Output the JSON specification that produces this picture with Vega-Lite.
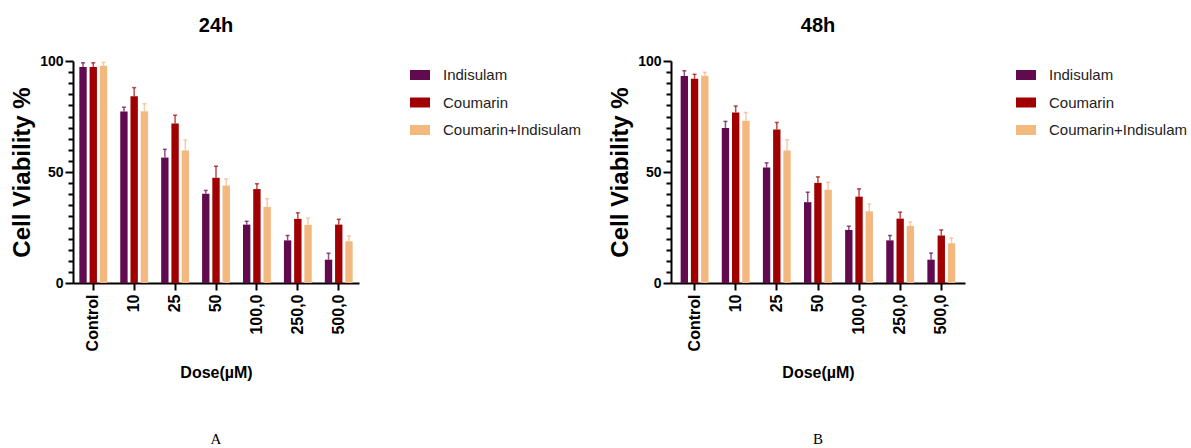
{
  "$schema": "https://vega.github.io/schema/vega-lite/v6.json",
  "padding": {"left": 10, "top": 16, "right": 2, "bottom": 0},
  "background": "white",
  "datasets": {
    "viab": [
      {"time": "24h", "dose": "Control", "treatment": "Indisulam", "value": 97.3, "upper": 99.2},
      {"time": "24h", "dose": "Control", "treatment": "Coumarin", "value": 97.3, "upper": 99.2},
      {"time": "24h", "dose": "Control", "treatment": "Coumarin+Indisulam", "value": 97.9, "upper": 99.4},
      {"time": "24h", "dose": "10", "treatment": "Indisulam", "value": 77.3, "upper": 79.2},
      {"time": "24h", "dose": "10", "treatment": "Coumarin", "value": 84.1, "upper": 88.0},
      {"time": "24h", "dose": "10", "treatment": "Coumarin+Indisulam", "value": 77.4, "upper": 80.8},
      {"time": "24h", "dose": "25", "treatment": "Indisulam", "value": 56.5, "upper": 60.2},
      {"time": "24h", "dose": "25", "treatment": "Coumarin", "value": 71.9, "upper": 75.6},
      {"time": "24h", "dose": "25", "treatment": "Coumarin+Indisulam", "value": 59.7, "upper": 64.4},
      {"time": "24h", "dose": "50", "treatment": "Indisulam", "value": 40.2, "upper": 41.7},
      {"time": "24h", "dose": "50", "treatment": "Coumarin", "value": 47.4, "upper": 52.6},
      {"time": "24h", "dose": "50", "treatment": "Coumarin+Indisulam", "value": 43.9, "upper": 46.9},
      {"time": "24h", "dose": "100,0", "treatment": "Indisulam", "value": 26.3, "upper": 27.8},
      {"time": "24h", "dose": "100,0", "treatment": "Coumarin", "value": 42.3, "upper": 44.7},
      {"time": "24h", "dose": "100,0", "treatment": "Coumarin+Indisulam", "value": 34.3, "upper": 38.0},
      {"time": "24h", "dose": "250,0", "treatment": "Indisulam", "value": 19.2, "upper": 21.4},
      {"time": "24h", "dose": "250,0", "treatment": "Coumarin", "value": 28.9, "upper": 31.6},
      {"time": "24h", "dose": "250,0", "treatment": "Coumarin+Indisulam", "value": 26.2, "upper": 29.2},
      {"time": "24h", "dose": "500,0", "treatment": "Indisulam", "value": 10.5, "upper": 13.4},
      {"time": "24h", "dose": "500,0", "treatment": "Coumarin", "value": 26.3, "upper": 28.7},
      {"time": "24h", "dose": "500,0", "treatment": "Coumarin+Indisulam", "value": 18.8, "upper": 21.2},
      {"time": "48h", "dose": "Control", "treatment": "Indisulam", "value": 93.2, "upper": 95.6},
      {"time": "48h", "dose": "Control", "treatment": "Coumarin", "value": 92.0, "upper": 94.0},
      {"time": "48h", "dose": "Control", "treatment": "Coumarin+Indisulam", "value": 93.4, "upper": 94.9},
      {"time": "48h", "dose": "10", "treatment": "Indisulam", "value": 69.8, "upper": 72.8},
      {"time": "48h", "dose": "10", "treatment": "Coumarin", "value": 76.8, "upper": 79.7},
      {"time": "48h", "dose": "10", "treatment": "Coumarin+Indisulam", "value": 73.1, "upper": 76.8},
      {"time": "48h", "dose": "25", "treatment": "Indisulam", "value": 52.0, "upper": 54.1},
      {"time": "48h", "dose": "25", "treatment": "Coumarin", "value": 69.2, "upper": 72.3},
      {"time": "48h", "dose": "25", "treatment": "Coumarin+Indisulam", "value": 59.7, "upper": 64.5},
      {"time": "48h", "dose": "50", "treatment": "Indisulam", "value": 36.4, "upper": 40.9},
      {"time": "48h", "dose": "50", "treatment": "Coumarin", "value": 45.1, "upper": 47.8},
      {"time": "48h", "dose": "50", "treatment": "Coumarin+Indisulam", "value": 42.0, "upper": 45.3},
      {"time": "48h", "dose": "100,0", "treatment": "Indisulam", "value": 23.9, "upper": 25.6},
      {"time": "48h", "dose": "100,0", "treatment": "Coumarin", "value": 38.9, "upper": 42.4},
      {"time": "48h", "dose": "100,0", "treatment": "Coumarin+Indisulam", "value": 32.3, "upper": 35.6},
      {"time": "48h", "dose": "250,0", "treatment": "Indisulam", "value": 19.2, "upper": 21.4},
      {"time": "48h", "dose": "250,0", "treatment": "Coumarin", "value": 29.0, "upper": 31.9},
      {"time": "48h", "dose": "250,0", "treatment": "Coumarin+Indisulam", "value": 25.7, "upper": 27.5},
      {"time": "48h", "dose": "500,0", "treatment": "Indisulam", "value": 10.5, "upper": 13.5},
      {"time": "48h", "dose": "500,0", "treatment": "Coumarin", "value": 21.4, "upper": 23.9},
      {"time": "48h", "dose": "500,0", "treatment": "Coumarin+Indisulam", "value": 17.9, "upper": 20.2}
    ],
    "labA": [{"label": "A"}],
    "labB": [{"label": "B"}]
  },
  "data": {"name": "viab"},
  "hconcat": [
    {
      "spacing": 50,
      "vconcat": [
        {
          "title": {"text": "24h"},
          "width": 286,
          "height": 222,
          "transform": [{"filter": "datum.time === '24h'"}],
          "encoding": {
            "x": {"field": "dose", "type": "nominal", "sort": ["Control", "10", "25", "50", "100,0", "250,0", "500,0"], "scale": {"paddingInner": 0.25, "paddingOuter": 0.12}, "title": "Dose(µM)"},
            "xOffset": {"field": "treatment", "type": "nominal", "sort": ["Indisulam", "Coumarin", "Coumarin+Indisulam"], "scale": {"paddingInner": 0.28, "paddingOuter": 0.14}},
            "color": {"field": "treatment", "type": "nominal", "scale": {"domain": ["Indisulam", "Coumarin", "Coumarin+Indisulam"], "range": ["#620A4E", "#A00000", "#F2B87E"]}, "legend": {"title": null}},
            "y": {"field": "value", "type": "quantitative", "scale": {"domain": [0, 100], "nice": false}, "title": "Cell Viability %", "axis": {"values": [0, 5, 10, 15, 20, 25, 30, 35, 40, 45, 50, 55, 60, 65, 70, 75, 80, 85, 90, 95, 100], "labelOverlap": false, "labelExpr": "datum.value % 50 === 0 ? datum.label : ''", "tickSize": {"condition": {"test": "datum.value % 50 === 0", "value": 8}, "value": 5}}}
          },
          "layer": [
            {"mark": {"type": "bar"}},
            {"mark": {"type": "rule", "strokeWidth": 1.5, "opacity": 0.7}, "encoding": {"y2": {"field": "upper"}}},
            {"mark": {"type": "tick", "thickness": 1.5, "size": 4, "opacity": 0.7}, "encoding": {"y": {"field": "upper", "type": "quantitative", "title": "Cell Viability %", "axis": {"values": [0, 5, 10, 15, 20, 25, 30, 35, 40, 45, 50, 55, 60, 65, 70, 75, 80, 85, 90, 95, 100], "labelOverlap": false, "labelExpr": "datum.value % 50 === 0 ? datum.label : ''", "tickSize": {"condition": {"test": "datum.value % 50 === 0", "value": 8}, "value": 5}}}}}
          ]
        },
        {
          "width": 286,
          "height": 16,
          "data": {"name": "labA"},
          "mark": {"type": "text", "font": "Liberation Serif", "fontSize": 15, "color": "black"},
          "encoding": {"text": {"field": "label", "type": "nominal"}}
        }
      ]
    },
    {
      "spacing": 50,
      "vconcat": [
        {
          "title": {"text": "48h"},
          "width": 294,
          "height": 222,
          "transform": [{"filter": "datum.time === '48h'"}],
          "encoding": {
            "x": {"field": "dose", "type": "nominal", "sort": ["Control", "10", "25", "50", "100,0", "250,0", "500,0"], "scale": {"paddingInner": 0.25, "paddingOuter": 0.2}, "title": "Dose(µM)"},
            "xOffset": {"field": "treatment", "type": "nominal", "sort": ["Indisulam", "Coumarin", "Coumarin+Indisulam"], "scale": {"paddingInner": 0.28, "paddingOuter": 0.14}},
            "color": {"field": "treatment", "type": "nominal", "scale": {"domain": ["Indisulam", "Coumarin", "Coumarin+Indisulam"], "range": ["#620A4E", "#A00000", "#F2B87E"]}, "legend": {"title": null}},
            "y": {"field": "value", "type": "quantitative", "scale": {"domain": [0, 100], "nice": false}, "title": "Cell Viability %", "axis": {"values": [0, 5, 10, 15, 20, 25, 30, 35, 40, 45, 50, 55, 60, 65, 70, 75, 80, 85, 90, 95, 100], "labelOverlap": false, "labelExpr": "datum.value % 50 === 0 ? datum.label : ''", "tickSize": {"condition": {"test": "datum.value % 50 === 0", "value": 8}, "value": 5}}}
          },
          "layer": [
            {"mark": {"type": "bar"}},
            {"mark": {"type": "rule", "strokeWidth": 1.5, "opacity": 0.7}, "encoding": {"y2": {"field": "upper"}}},
            {"mark": {"type": "tick", "thickness": 1.5, "size": 4, "opacity": 0.7}, "encoding": {"y": {"field": "upper", "type": "quantitative", "title": "Cell Viability %", "axis": {"values": [0, 5, 10, 15, 20, 25, 30, 35, 40, 45, 50, 55, 60, 65, 70, 75, 80, 85, 90, 95, 100], "labelOverlap": false, "labelExpr": "datum.value % 50 === 0 ? datum.label : ''", "tickSize": {"condition": {"test": "datum.value % 50 === 0", "value": 8}, "value": 5}}}}}
          ]
        },
        {
          "width": 294,
          "height": 16,
          "data": {"name": "labB"},
          "mark": {"type": "text", "font": "Liberation Serif", "fontSize": 15, "color": "black"},
          "encoding": {"text": {"field": "label", "type": "nominal"}}
        }
      ]
    }
  ],
  "spacing": 23,
  "resolve": {"scale": {"color": "independent", "x": "independent", "y": "independent"}, "legend": {"color": "independent"}},
  "config": {
    "view": {"stroke": null},
    "font": "Liberation Sans",
    "title": {"fontSize": 20, "fontWeight": "bold", "font": "Liberation Sans", "color": "black", "offset": 18, "anchor": "middle"},
    "axis": {"grid": false, "domainColor": "black", "domainWidth": 2, "tickColor": "black", "tickWidth": 2, "labelColor": "black", "titleColor": "black", "labelFont": "Liberation Sans", "titleFont": "Liberation Sans", "labelFontWeight": "bold", "titleFontWeight": "bold"},
    "axisX": {"labelAngle": 270, "labelAlign": "right", "labelBaseline": "middle", "labelFontSize": 16, "tickSize": 7, "labelPadding": 4, "titleFontSize": 16, "titlePadding": 14},
    "axisY": {"labelFontSize": 14, "labelPadding": 2, "titleFontSize": 24, "titlePadding": 5},
    "legend": {"labelFontSize": 15, "labelFont": "Liberation Sans", "labelColor": "#222222", "symbolType": "M-1,-0.5H1V0.5H-1Z", "symbolSize": 400, "symbolStrokeWidth": 0, "symbolOpacity": 1, "labelOffset": 13, "rowPadding": 9.5, "offset": 47, "padding": 4}
  }
}
